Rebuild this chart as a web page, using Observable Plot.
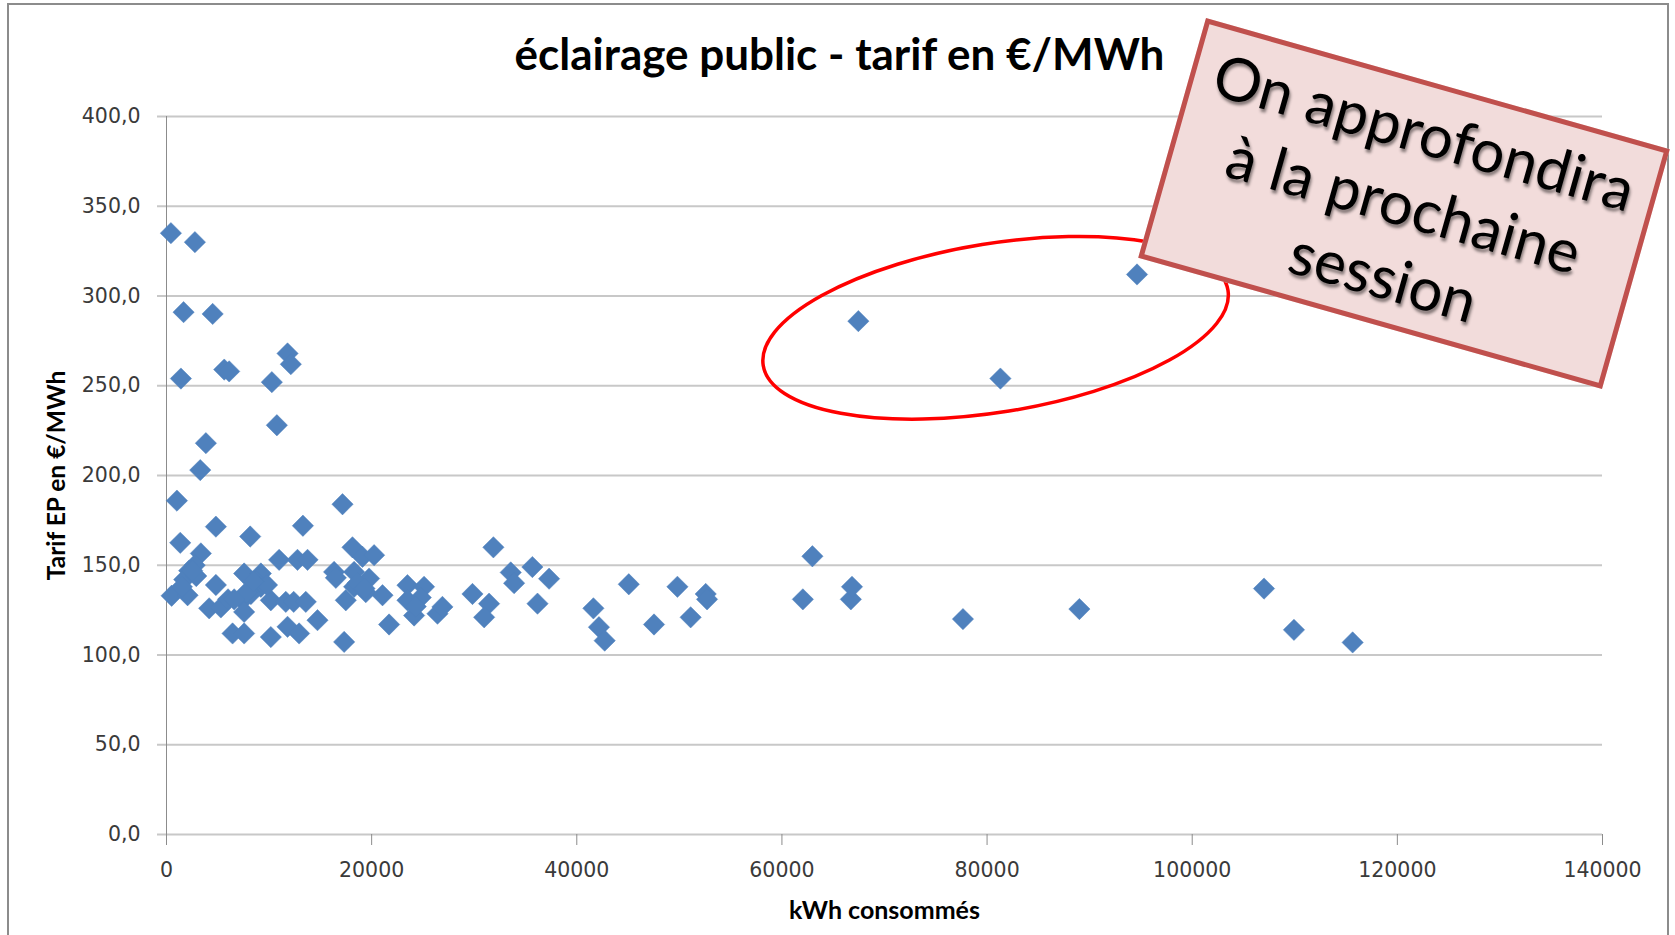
<!DOCTYPE html>
<html>
<head>
<meta charset="utf-8">
<script src="https://cdn.jsdelivr.net/npm/d3@7"></script>
<script src="https://cdn.jsdelivr.net/npm/@observablehq/plot@0.6"></script>
<style>
  html, body { margin: 0; padding: 0; background: #fff; }
  #wrap { position: relative; width: 1675px; height: 935px; overflow: hidden; background: #fff; }
  #wrap svg { position: absolute; left: 0; top: 0; }
  #slideframe { position: absolute; left: 7px; top: 3px; width: 1662px; height: 1000px;
    border: 2px solid #8c8c8c; border-bottom: none; box-sizing: border-box; pointer-events: none; }
  #note { position: absolute; width: 482px; height: 249px; left: 1162.6px; top: 79.3px;
    transform: rotate(15.8deg); transform-origin: 50% 50%;
    background: #f2dcdb; border: 5px solid #c0504d; box-sizing: border-box;
    display: flex; flex-direction: column; justify-content: center; align-items: center;
    font-family: Lato, "Open Sans", sans-serif; font-size: 60px; line-height: 75px; color: #000;
    text-shadow: 2px 3px 3px rgba(0,0,0,0.45); }
</style>
</head>
<body>
<div id="wrap">
  <div id="slideframe"></div>
</div>
<script>
// ---- data ----
const chartTitle = "éclairage public - tarif en €/MWh";
const xLabel = "kWh consommés";
const yLabel = "Tarif EP en €/MWh";
const xTicks = [0, 20000, 40000, 60000, 80000, 100000, 120000, 140000];
const yTicks = [0, 50, 100, 150, 200, 250, 300, 350, 400];

const kwh = [
  430, 2770, 1665, 4500, 1405, 5630, 6110, 10270, 11800, 12120,
  10760, 3840, 3290, 1015, 17160, 1340, 4815, 8160, 13300, 18130,
  31870, 62970, 3350, 2750, 2210, 1725, 500, 2055, 2900, 4815,
  4160, 5300, 6440, 7570, 7570, 9200, 7415, 7570, 10170, 10980,
  12770, 13750, 10170, 11630, 12400, 11800, 12930, 9200, 13580, 14720,
  8720, 8230, 6000, 9800, 16340, 16510, 18290, 19110, 20240, 19750,
  18290, 17480, 19430, 21060, 21700, 17320, 18620, 19300, 23490, 25110,
  23490, 24790, 24140, 26420, 26900, 24300, 29830, 31450, 30970, 33560,
  33890, 35670, 37300, 36170, 41620, 42160, 42720, 45070, 47530, 49810,
  51100, 52570, 52700, 62040, 66720, 66830, 67450, 77650, 81300, 89000,
  94620, 107000, 109920, 115640, 2500, 1500, 7800, 6600, 8500
];
const tarif = [
  335, 330, 291, 290, 254, 259, 258, 252, 268, 262,
  228, 218, 203, 186, 184, 162.5, 171.5, 166, 172, 160,
  160, 155, 156.6, 150, 147, 142, 133, 133.3, 144, 139,
  126, 126.5, 112, 112, 145.4, 145.4, 130.5, 124, 110, 153,
  153, 153, 130.5, 129.6, 129.6, 115.7, 112, 138, 129.6, 119.4,
  141, 134, 131, 139, 146.3, 143, 146.3, 154.7, 155.6, 142.6,
  138, 130.5, 135, 133.3, 117, 107.3, 140, 137, 138.9, 138,
  130.5, 132, 122, 123, 126.8, 127, 134, 128.6, 121, 146,
  140, 149, 142.5, 128.6, 126, 115.5, 108, 139.4, 117, 138,
  121, 134, 131, 131, 131, 138, 286, 120, 254, 125.6,
  312, 137, 114, 107, 147, 138, 135, 131, 141
];
const noteLines = ["On approfondira", "à la prochaine", "session"];
// highlight ellipse (data units): centre, semi-axes, rotation in degrees
const ellipseCx = 80880, ellipseCy = 282, ellipseRx = 22950, ellipseRy = 47, ellipseAngle = -9.2;

const points = kwh.map((x, i) => ({x, y: tarif[i]}));
const fmtY = d => d.toFixed(1).replace(".", ",");

const ellipseMark = (index, scales) => {
  const {x, y} = scales;
  const cx = x(ellipseCx), cy = y(ellipseCy);
  const rx = x(ellipseCx + ellipseRx) - cx;
  const ry = y(ellipseCy - ellipseRy) - cy;
  return d3.create("svg:ellipse")
    .attr("cx", cx).attr("cy", cy).attr("rx", rx).attr("ry", ry)
    .attr("transform", `rotate(${ellipseAngle} ${cx} ${cy})`)
    .attr("fill", "none").attr("stroke", "#ff0000").attr("stroke-width", 3.5)
    .node();
};

const chart = Plot.plot({
  width: 1675,
  height: 935,
  marginLeft: 166,
  marginRight: 73,
  marginTop: 116,
  marginBottom: 101,
  style: {fontFamily: "DejaVu Sans, Verdana, sans-serif", background: "transparent", overflow: "visible"},
  x: {domain: [0, 140000]},
  y: {domain: [0, 400]},
  marks: [
    Plot.ruleY(yTicks, {stroke: "#c8c8c8", strokeWidth: 2, insetLeft: -9}),
    Plot.ruleX([0], {stroke: "#8c8c8c", strokeWidth: 1}),
    Plot.axisY({ticks: yTicks, tickSize: 0, tickPadding: 26, tickFormat: fmtY, fontSize: 20.5, fill: "#3a3a3a", label: null}),
    Plot.axisX({ticks: xTicks, tickSize: 11, tickPadding: 17, tickFormat: d => String(d), fontSize: 20.5, fill: "#3a3a3a", stroke: "#8c8c8c", label: null}),
    Plot.dot(points, {x: "x", y: "y", symbol: "diamond2", r: 9.6, fill: "#4f81bd", stroke: "#4f81bd", strokeWidth: 0.5}),
    ellipseMark,
    Plot.text([chartTitle], {frameAnchor: "top", lineAnchor: "middle", dx: -45, dy: -61, fontSize: 44, fontWeight: "bold", fontFamily: "Lato, sans-serif", fill: "#000"}),
    Plot.text([xLabel], {frameAnchor: "bottom", lineAnchor: "middle", dy: 76, fontSize: 25, fontWeight: "bold", fontFamily: "Lato, sans-serif", fill: "#000"}),
    Plot.text([yLabel], {frameAnchor: "left", textAnchor: "middle", lineAnchor: "middle", dx: -109, rotate: -90, fontSize: 24.5, fontWeight: "bold", fontFamily: "Lato, sans-serif", fill: "#000"})
  ]
});

const wrap = document.getElementById("wrap");
wrap.insertBefore(chart, wrap.firstChild);

const note = document.createElement("div");
note.id = "note";
noteLines.forEach(t => { const s = document.createElement("div"); s.textContent = t; note.appendChild(s); });
wrap.appendChild(note);
</script>
</body>
</html>
